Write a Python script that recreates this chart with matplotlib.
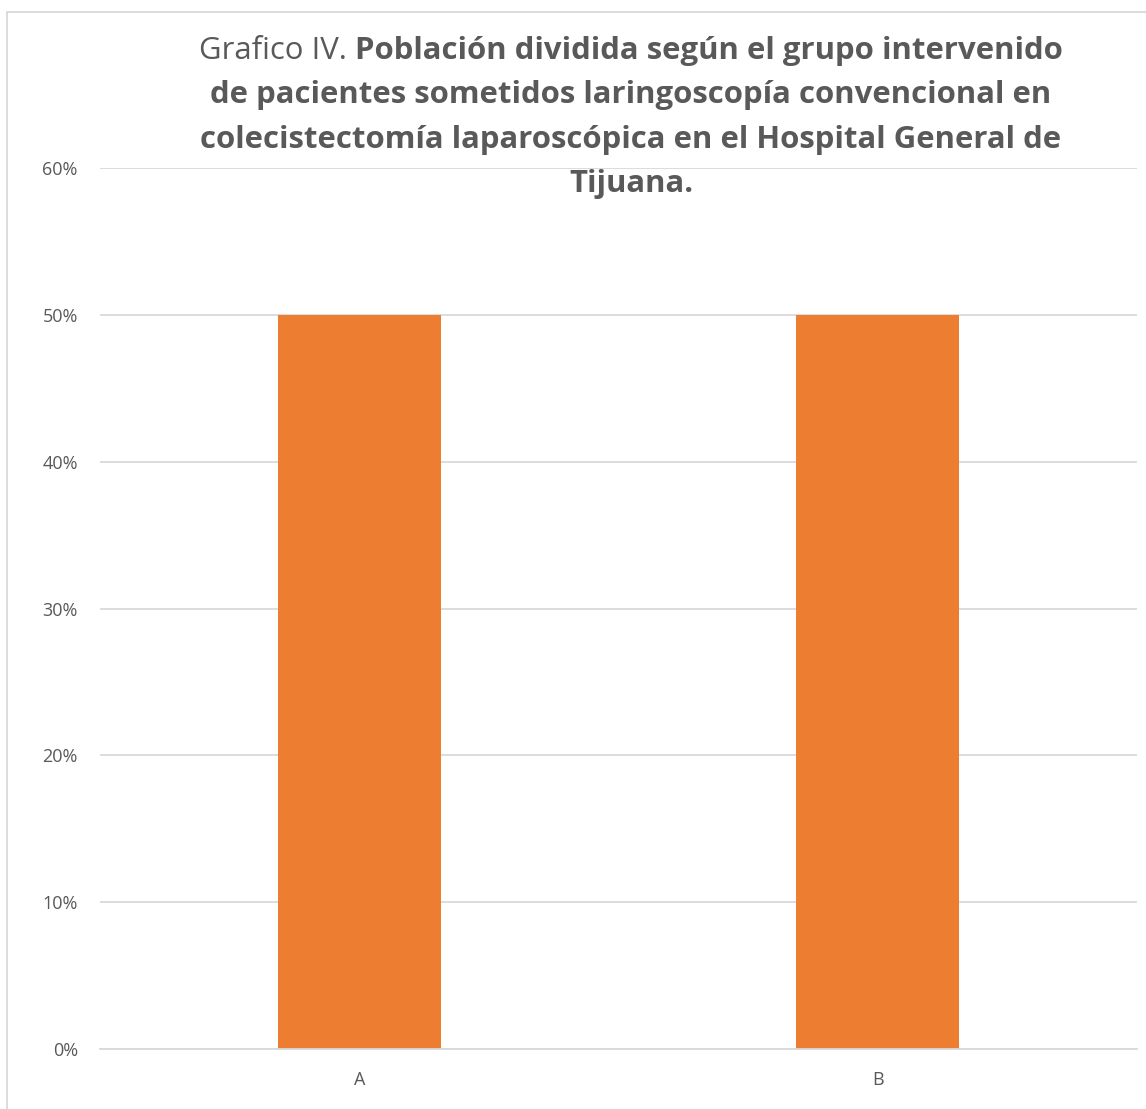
import matplotlib.pyplot as plt
from matplotlib.patches import Rectangle
from matplotlib.ticker import PercentFormatter

# data
categories = ['A', 'B']
values = [0.50, 0.50]
yticks = [0, 0.1, 0.2, 0.3, 0.4, 0.5, 0.6]

title_lead = 'Grafico IV. '
title_bold_1 = 'Población dividida según el grupo intervenido'
title_rest = ['de pacientes sometidos laringoscopía convencional en',
              'colecistectomía laparoscópica en el Hospital General de',
              'Tijuana.']

txt = '#595959'
grid = '#D9D9D9'
bar_color = '#ED7D31'
plt.rcParams['font.family'] = ['Open Sans', 'DejaVu Sans']

W, H = 1146, 1109
fig = plt.figure(figsize=(W / 100, H / 100), dpi=100)
ax = fig.add_axes([100 / W, 1 - 1049 / H, (1137 - 100) / W, (1049 - 168) / H])

x = range(len(categories))
ax.bar(x, values, width=0.314, color=bar_color, zorder=2)
ax.set_xlim(-0.5, 1.5)
ax.set_ylim(0, 0.6)
ax.set_yticks(yticks)
ax.yaxis.set_major_formatter(PercentFormatter(1.0, decimals=0))
ax.set_xticks(list(x))
ax.set_xticklabels(categories)
ax.grid(axis='y', color=grid, linewidth=1.3, zorder=0)
for s in ['top', 'right', 'left']:
    ax.spines[s].set_visible(False)
ax.spines['bottom'].set_color(grid)
ax.spines['bottom'].set_linewidth(1.3)
ax.tick_params(axis='y', length=0, pad=16, labelsize=13, labelcolor=txt)
ax.tick_params(axis='x', length=0, pad=16, labelsize=13, labelcolor=txt)

# chart border
fig.patches.append(Rectangle((7 / W, -0.05), 1.2, (H - 12) / H + 0.05,
                             transform=fig.transFigure, fill=False,
                             edgecolor=grid, linewidth=1.3))

# title: first line mixed normal/bold, centered at x ~ 631px
fs = 22.4
cx = 631 / W
r = fig.canvas.get_renderer()
t1 = fig.text(0, 0, title_lead, fontsize=fs, color=txt)
t2 = fig.text(0, 0, title_bold_1, fontsize=fs, color=txt, fontweight='bold')
w1 = t1.get_window_extent(r).width / W
w2 = t2.get_window_extent(r).width / W
start = cx - (w1 + w2) / 2
y0 = 1 - 51 / H
t1.set_position((start, y0))
t1.set_va('center')
t2.set_position((start + w1, y0))
t2.set_va('center')
line_h = 44.5 / H
for i, line in enumerate(title_rest):
    fig.text(cx, y0 - (i + 1) * line_h, line, fontsize=fs, color=txt,
             fontweight='bold', ha='center', va='center')

fig.savefig('out.png', dpi=100)
